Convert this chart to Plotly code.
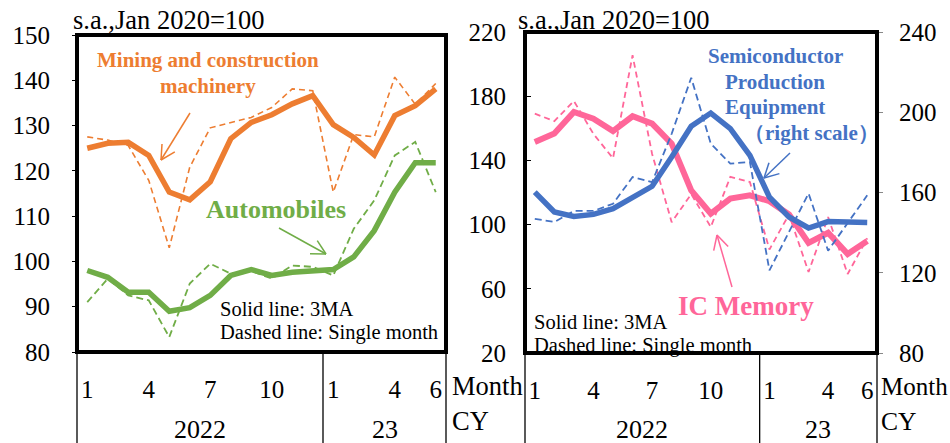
import math
import plotly.graph_objects as go

# ---------------- data ----------------
months = ["2022-%02d" % m for m in range(1, 13)] + ["2023-%02d" % m for m in range(1, 7)]
tick_months = ["2022-01", "2022-04", "2022-07", "2022-10", "2023-01", "2023-04", "2023-06"]
tick_text = ["1", "4", "7", "10", "1", "4", "6"]
year_labels = ["2022", "23"]
year_pos = [5.5, 14.5]
year_sep = 11.5

mining_3ma = [125.0, 126.1, 126.3, 123.4, 115.3, 113.6, 117.6, 127.1, 130.7, 132.4, 134.8, 136.6,
              130.2, 127.4, 123.5, 132.2, 134.4, 138.1]
mining_single = [127.5, 126.8, 125.6, 117.9, 103.0, 120.8, 129.5, 130.7, 131.8, 134.0, 138.1, 137.7,
                 115.3, 128.0, 127.5, 140.7, 134.7, 139.3]
auto_3ma = [98.0, 96.5, 93.2, 93.2, 89.0, 89.8, 92.5, 96.9, 98.2, 96.9, 97.6, 98.0,
            98.2, 101.0, 106.8, 115.3, 121.8, 121.8]
auto_single = [91.0, 96.2, 92.5, 91.4, 83.3, 95.1, 99.5, 97.3, 97.9, 96.2, 99.1, 98.8,
               96.9, 107.2, 113.5, 123.4, 126.4, 115.3]

ic_3ma = [151.5, 156.7, 170.2, 166.0, 158.3, 167.5, 162.9, 150.4, 121.3, 106.8, 116.2, 118.2,
          114.6, 106.3, 88.6, 94.9, 81.7, 89.8]
ic_single = [169.1, 164.5, 177.0, 156.5, 141.3, 205.5, 144.0, 101.5, 119.0, 98.5, 129.7, 126.5,
             84.5, 106.3, 70.5, 104.7, 69.2, 91.5]
spe_3ma = [160.2, 150.3, 148.1, 149.1, 151.9, 157.7, 163.1, 177.7, 193.0, 199.6, 191.8, 178.5,
           157.7, 147.8, 142.3, 145.5, 145.3, 145.1]
spe_single = [146.9, 145.3, 150.8, 150.8, 154.4, 167.7, 165.2, 189.3, 217.2, 184.3, 174.4, 175.2,
              121.2, 140.5, 159.5, 131.0, 144.5, 158.6]

ORANGE = "#ED7D31"
GREEN = "#70AD47"
BLUE = "#4472C4"
PINK = "#FF6699"
FONT = "Liberation Serif"

W, H = 950, 443


def px(x):
    return x / W


def py(y):
    return 1 - y / H


fig = go.Figure()

# left panel
fig.add_trace(go.Scatter(x=months, y=mining_single, mode="lines", xaxis="x", yaxis="y",
                         line=dict(color=ORANGE, width=1.6, dash="6px,4px")))
fig.add_trace(go.Scatter(x=months, y=auto_single, mode="lines", xaxis="x", yaxis="y",
                         line=dict(color=GREEN, width=1.8, dash="7px,4px")))
fig.add_trace(go.Scatter(x=months, y=mining_3ma, mode="lines", xaxis="x", yaxis="y",
                         line=dict(color=ORANGE, width=5.5)))
fig.add_trace(go.Scatter(x=months, y=auto_3ma, mode="lines", xaxis="x", yaxis="y",
                         line=dict(color=GREEN, width=5.5)))

# right panel
fig.add_trace(go.Scatter(x=months, y=ic_single, mode="lines", xaxis="x2", yaxis="y2",
                         line=dict(color=PINK, width=1.8, dash="6px,4px")))
fig.add_trace(go.Scatter(x=months, y=ic_3ma, mode="lines", xaxis="x2", yaxis="y2",
                         line=dict(color=PINK, width=6)))
fig.add_trace(go.Scatter(x=months, y=spe_single, mode="lines", xaxis="x2", yaxis="y3",
                         line=dict(color=BLUE, width=1.8, dash="7px,4px")))
fig.add_trace(go.Scatter(x=months, y=spe_3ma, mode="lines", xaxis="x2", yaxis="y3",
                         line=dict(color=BLUE, width=5.5)))

L = dict(x0=77, x1=446, y0=35, y1=352)
R = dict(x0=525, x1=877, y0=32, y1=353)

tickfont = dict(family=FONT, size=25, color="black")

xcommon = dict(type="category", range=[-0.5, 17.5], showgrid=False, zeroline=False,
               showline=False, tickmode="array", tickvals=tick_months, ticktext=tick_text,
               ticks="", tickfont=tickfont, ticklabelstandoff=20, automargin=False)

fig.update_layout(
    width=W, height=H, margin=dict(l=0, r=0, t=0, b=0, pad=0), autosize=False,
    paper_bgcolor="white", plot_bgcolor="white", showlegend=False,
    xaxis=dict(domain=[px(L["x0"]), px(L["x1"])], anchor="y", **xcommon),
    yaxis=dict(domain=[py(L["y1"]), py(L["y0"])], range=[80, 150], tick0=80, dtick=10, anchor="x",
               showgrid=False, zeroline=False, showline=False, ticks="outside", ticklen=4,
               tickcolor="black", tickfont=tickfont, ticklabelstandoff=17, automargin=False),
    xaxis2=dict(domain=[px(R["x0"]), px(R["x1"])], anchor="y2", **xcommon),
    yaxis2=dict(domain=[py(R["y1"]), py(R["y0"])], range=[20, 220], tick0=20, dtick=40, anchor="x2",
                showgrid=False, zeroline=False, showline=False, ticks="inside", ticklen=6,
                tickcolor="black", tickfont=tickfont, ticklabelstandoff=18, automargin=False),
    yaxis3=dict(range=[80, 240], tick0=80, dtick=40, overlaying="y2", side="right", anchor="x2",
                showgrid=False, zeroline=False, showline=False, ticks="outside", ticklen=5,
                tickcolor="#888", tickfont=tickfont, ticklabelstandoff=11, automargin=False),
)

shapes = []
for P, xref in ((L, "x"), (R, "x2")):
    shapes.append(dict(type="rect", xref="paper", yref="paper", x0=px(P["x0"]), x1=px(P["x1"]),
                       y0=py(P["y1"]), y1=py(P["y0"]), line=dict(color="black", width=4),
                       layer="above"))
    for xv in (P["x0"], P["x1"]):
        shapes.append(dict(type="line", xref="paper", yref="paper", x0=px(xv), x1=px(xv),
                           y0=0, y1=py(P["y1"]), line=dict(color="black", width=1.3)))
    shapes.append(dict(type="line", xref=xref, yref="paper", x0=year_sep, x1=year_sep,
                       y0=0, y1=py(P["y1"]), line=dict(color="black", width=1.3)))


def arrow(x0, y0, x1, y1, color, wing=16, ang=28):
    out = [dict(type="line", xref="paper", yref="paper", x0=px(x0), y0=py(y0), x1=px(x1), y1=py(y1),
                line=dict(color=color, width=1.5))]
    a = math.atan2(y0 - y1, x0 - x1)
    for s in (-1, 1):
        b = a + s * math.radians(ang)
        out.append(dict(type="line", xref="paper", yref="paper", x0=px(x1), y0=py(y1),
                        x1=px(x1 + wing * math.cos(b)), y1=py(y1 + wing * math.sin(b)),
                        line=dict(color=color, width=1.5)))
    return out


shapes += arrow(190, 113, 161, 160, ORANGE)
shapes += arrow(279, 228, 326, 254, GREEN)
shapes += arrow(790, 153, 764, 178, BLUE)
shapes += arrow(732, 287, 717, 235, PINK)
fig.update_layout(shapes=shapes)

ann = []


def text(x, y, s, size, color="black", bold=False, xanchor="center"):
    if bold:
        s = "<b>" + s + "</b>"
    ann.append(dict(xref="paper", yref="paper", x=px(x), y=py(y), text=s, showarrow=False,
                    xanchor=xanchor, yanchor="middle", borderpad=0,
                    font=dict(family=FONT, size=size, color=color)))


text(72, 20, "s.a.,Jan 2020=100", 26.5, xanchor="left")
text(517, 20, "s.a.,Jan 2020=100", 26.5, xanchor="left")
text(208, 60, "Mining and construction", 21, ORANGE, True)
text(208, 86, "machinery", 21, ORANGE, True)
text(276, 209, "Automobiles", 26, GREEN, True)
text(219, 309, "Solid line: 3MA", 20.5, xanchor="left")
text(219, 332, "Dashed line: Single month", 20.5, xanchor="left")
text(775, 56, "Semiconductor", 21, BLUE, True)
text(775, 82, "Production", 21, BLUE, True)
text(775, 107, "Equipment", 21, BLUE, True)
text(880, 133, "（right scale）", 21, BLUE, True, xanchor="right")
text(746, 306, "IC Memory", 27, PINK, True)
text(533, 322, "Solid line: 3MA", 20.5, xanchor="left")
text(533, 345, "Dashed line: Single month", 20.5, xanchor="left")
text(451, 386, "Month", 26.5, xanchor="left")
text(451, 421, "CY", 26.5, xanchor="left")
text(880, 386, "Month", 25, xanchor="left")
text(880, 421, "CY", 25.5, xanchor="left")

for xref in ("x", "x2"):
    for lab, pos in zip(year_labels, year_pos):
        ann.append(dict(xref=xref, yref="paper", x=pos, y=py(429), text=lab, showarrow=False,
                        xanchor="center", yanchor="middle", borderpad=0,
                        font=dict(family=FONT, size=26, color="black")))

fig.update_layout(annotations=ann)
fig.write_html("out.html")
